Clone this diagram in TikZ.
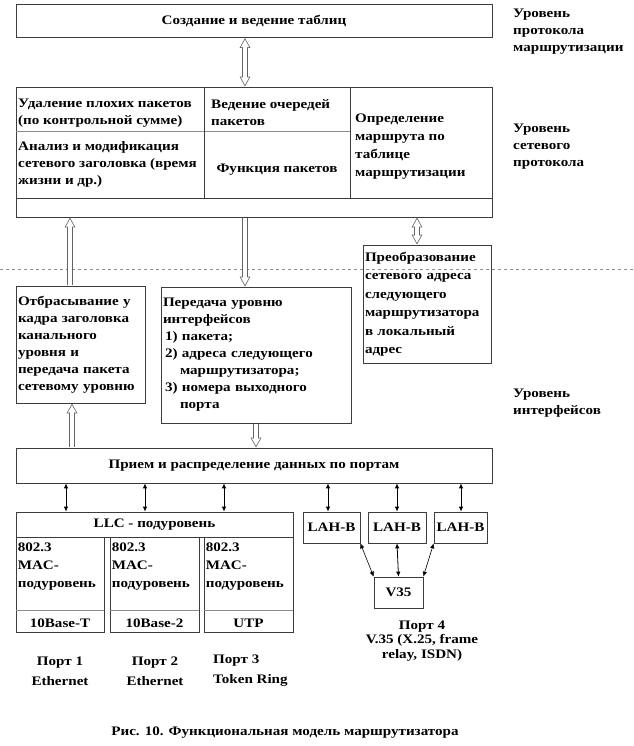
\documentclass[tikz,border=0pt]{standalone}
\usepackage{fontspec}
\setmainfont[FakeStretch=1.16]{Liberation Serif}
\usetikzlibrary{arrows.meta}

\tikzset{
  box/.style={draw=boxgray, line width=0.7pt, inner sep=2pt},
  label/.style={inner sep=0pt, align=left},
  hollow/.style={draw=white, line width=3.8pt, shorten <=0.4pt, shorten >=1.6pt, -{Triangle[length=7.7pt,width=7.7pt]},
    preaction={draw=arrowgray, line width=5.2pt, shorten <=0.4pt, shorten >=0pt, -{Triangle[length=10pt,width=10pt]}}},
  hollowboth/.style={draw=white, line width=3.8pt, shorten <=1.6pt, shorten >=1.6pt, {Triangle[length=7.7pt,width=7.7pt]}-{Triangle[length=7.7pt,width=7.7pt]},
    preaction={draw=arrowgray, line width=5.2pt, shorten <=0pt, shorten >=0pt, {Triangle[length=10pt,width=10pt]}-{Triangle[length=10pt,width=10pt]}}},
  thin/.style={line width=0.8pt, {Latex[length=5pt,width=4.5pt]}-{Latex[length=5pt,width=4.5pt]}}
}

\begin{document}
\begin{tikzpicture}[x=1pt, y=-1pt, every node/.style={font=\fontsize{13}{17}\selectfont\bfseries}]

\definecolor{boxgray}{RGB}{60,60,60}
\definecolor{arrowgray}{RGB}{100,100,100}
\definecolor{rulegray}{RGB}{140,140,140}
\useasboundingbox (0,0) rectangle (633,746);

\coordinate (colA) at (70,0);
\coordinate (colA2) at (72,0);
\coordinate (colB) at (245,0);
\coordinate (colB2) at (256,0);
\coordinate (colC) at (417,0);

% routing protocol level
\node[box, minimum width=476, minimum height=33] (tables) at (254,21) {Создание и ведение таблиц};
\node[label, anchor=west] (lvlroute) at (513,32) {Уровень\\протокола\\маршрутизации};

% network protocol level
\node[box, minimum width=476, minimum height=130] (net) at (254,152) {};
\draw[rulegray, line width=1pt] (16,132) -- (350,132);
\draw[boxgray, line width=0.6pt] (204,87) -- (204,198);
\draw[boxgray, line width=0.6pt] (350,87) -- (350,198);
\draw[boxgray, line width=0.6pt] (16,198) -- (492,198);
\node[label, anchor=north west] (badpkt) at (18,99) {Удаление плохих пакетов\\(по контрольной сумме)};
\node[label, anchor=north west] (header) at (18,141) {Анализ и модификация\\сетевого заголовка (время\\жизни и др.)};
\node[label, anchor=north west] (queue) at (211,99) {Ведение очередей\\пакетов};
\node[label] (func) at (277,170) {Функция пакетов};
\node[label, anchor=west, font=\fontsize{13}{18}\selectfont\bfseries] (route) at (355,147) {Определение\\маршрута по\\таблице\\маршрутизации};
\node[label, anchor=west] (lvlnet) at (513,147) {Уровень\\сетевого\\протокола};

\draw[hollowboth] (tables.south -| colB) -- (net.north -| colB);

\draw[rulegray, line width=0.8pt, dash pattern=on 3pt off 3pt] (0,269) -- (633,269);

% interface level
\node[box, minimum width=129, minimum height=117, text width=125, align=left] (drop) at (80.5,344.5) {Отбрасывание у\\кадра заголовка\\канального\\уровня и\\передача пакета\\сетевому уровню};
\node[box, minimum width=190, minimum height=136, text width=186, align=left] (pass) at (256,355) {Передача уровню\\интерфейсов\\\hspace*{2pt}1) пакета;\\\hspace*{2pt}2) адреса следующего\\\hspace*{17pt}маршрутизатора;\\\hspace*{2pt}3) номера выходного\\\hspace*{17pt}порта};
\node[box, minimum width=128, minimum height=118, text width=124, align=left, font=\fontsize{13}{18.5}\selectfont\bfseries] (conv) at (427,304) {Преобразование\\сетевого адреса\\следующего\\маршрутизатора\\в локальный\\адрес};
\node[label, anchor=west] (lvlif) at (513,403) {Уровень\\интерфейсов};

\draw[hollow] (drop.north -| colA) -- (net.south -| colA);
\draw[hollow] (net.south -| colB) -- (pass.north -| colB);
\draw[hollowboth] (net.south -| colC) -- (conv.north -| colC);

\node[box, minimum width=476, minimum height=35] (recv) at (254,465.5) {Прием и распределение данных по портам};

\draw[hollow] (recv.north -| colA2) -- (drop.south -| colA2);
\draw[hollow] (pass.south -| colB2) -- (recv.north -| colB2);

% ports
\node[box, minimum width=277, minimum height=25] (llc) at (154.5,524.5) {LLC - подуровень};
\node[box, minimum width=88, minimum height=95] (mac1) at (60,584.5) {};
\node[box, minimum width=89, minimum height=95] (mac2) at (154.5,584.5) {};
\node[box, minimum width=89, minimum height=95] (mac3) at (248.5,584.5) {};
\foreach \m/\phy in {mac1/10Base-T, mac2/10Base-2, mac3/UTP} {
  \draw[rulegray, line width=1pt] (\m.west |- 0,610) -- (\m.east |- 0,610);
  \node[label, anchor=north west, font=\fontsize{13}{18}\selectfont\bfseries] at ([shift={(2,6)}]\m.north west) {802.3\\MAC-\\подуровень};
  \node[label] at (\m |- 0,623) {\phy};
}

\node[box, minimum width=57, minimum height=31] (lah1) at (331.5,527.5) {LAH-B};
\node[box, minimum width=58, minimum height=31] (lah2) at (397,527.5) {LAH-B};
\node[box, minimum width=53, minimum height=31] (lah3) at (460.5,527.5) {LAH-B};
\node[box, minimum width=49, minimum height=31] (v35) at (398.5,592.5) {V35};

\foreach \x in {66,145,224} \draw[thin] (recv.south -| \x,0) -- (llc.north -| \x,0);
\foreach \x/\b in {328/lah1,397/lah2,461/lah3} \draw[thin] (recv.south -| \x,0) -- (\b.north -| \x,0);

\draw[thin, line width=0.6pt] (lah1.south east) -- (v35.north west);
\draw[thin] (lah2.south) -- (v35.north);
\draw[thin, line width=0.6pt] (lah3.south west) -- (v35.north east);

\node[label, align=center, font=\fontsize{13}{20}\selectfont\bfseries] (port1) at (60,671) {Порт 1\\Ethernet};
\node[label, align=center, font=\fontsize{13}{20}\selectfont\bfseries] (port2) at (155,671) {Порт 2\\Ethernet};
\node[label, anchor=west, font=\fontsize{13}{20}\selectfont\bfseries] (port3) at (213,671) {Порт 3\\Token Ring};
\node[label, align=center, font=\fontsize{13}{14.5}\selectfont\bfseries] (port4) at (422,641) {Порт 4\\V.35 (X.25, frame\\relay, ISDN)};

\node[label] (caption) at (285,733) {Рис. 10. Функциональная модель маршрутизатора};

\end{tikzpicture}
\end{document}
